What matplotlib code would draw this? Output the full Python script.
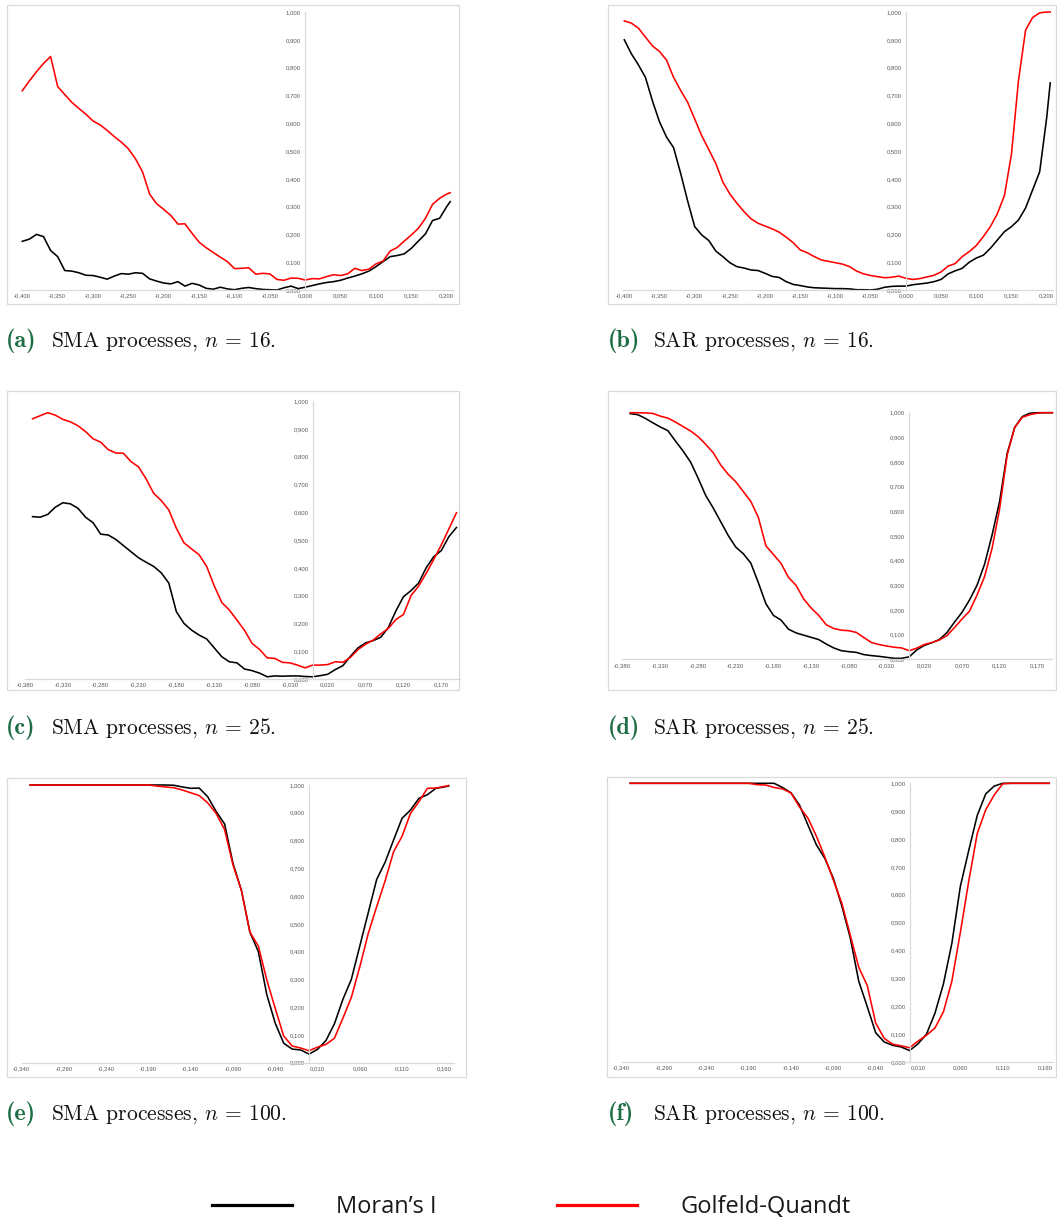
import numpy as np
import matplotlib
matplotlib.use("Agg")
import matplotlib.pyplot as plt
from matplotlib.patches import Rectangle
from matplotlib.lines import Line2D
from matplotlib.ticker import FuncFormatter, FixedLocator

plt.rcParams["mathtext.fontset"] = "cm"

# ---------------- data ----------------
X_AB = np.append(np.round(np.arange(-0.40, 0.2001, 0.01), 3), 0.205)
X_CD = np.round(np.arange(-0.37, 0.1901, 0.01), 3)
X_EF = np.append(np.round(np.arange(-0.33, 0.1601, 0.01), 3), 0.165)

XTICKS_AB = [-0.40, -0.35, -0.30, -0.25, -0.20, -0.15, -0.10, -0.05, 0.00, 0.05, 0.10, 0.15, 0.20]
XTICKS_CD = [-0.38, -0.33, -0.28, -0.23, -0.18, -0.13, -0.08, -0.03, 0.02, 0.07, 0.12, 0.17]
XTICKS_EF = [-0.34, -0.29, -0.24, -0.19, -0.14, -0.09, -0.04, 0.01, 0.06, 0.11, 0.16]
YTICKS = [0.0, 0.1, 0.2, 0.3, 0.4, 0.5, 0.6, 0.7, 0.8, 0.9, 1.0]

SERIES_NAMES = ["Moran\u2019s I", "Golfeld-Quandt"]

# (a) SMA, n = 16
GQ_A = [0.717, 0.752, 0.785, 0.815, 0.840, 0.732, 0.703, 0.675, 0.653, 0.632,
        0.608, 0.594, 0.574, 0.552, 0.532, 0.508, 0.472, 0.425, 0.345, 0.310,
        0.290, 0.268, 0.237, 0.238, 0.204, 0.172, 0.152, 0.135, 0.118, 0.102,
        0.077, 0.078, 0.080, 0.057, 0.060, 0.058, 0.038, 0.035, 0.043, 0.042,
        0.036, 0.041, 0.040, 0.048, 0.055, 0.052, 0.058, 0.078, 0.070, 0.075,
        0.094, 0.104, 0.140, 0.153, 0.176, 0.198, 0.222, 0.258, 0.308, 0.330,
        0.345, 0.350]
MI_A = [0.175, 0.183, 0.200, 0.192, 0.142, 0.120, 0.070, 0.068, 0.062, 0.053,
        0.052, 0.046, 0.039, 0.050, 0.059, 0.057, 0.062, 0.060, 0.040, 0.032,
        0.025, 0.022, 0.030, 0.014, 0.024, 0.018, 0.006, 0.003, 0.010, 0.004,
        0.001, 0.006, 0.009, 0.005, 0.002, 0.001, 0.000, 0.008, 0.014, 0.005,
        0.010, 0.016, 0.022, 0.027, 0.030, 0.035, 0.043, 0.050, 0.058, 0.068,
        0.084, 0.102, 0.120, 0.124, 0.130, 0.150, 0.176, 0.202, 0.250, 0.258,
        0.300, 0.318]

# (b) SAR, n = 16
GQ_B = [0.968, 0.960, 0.942, 0.910, 0.878, 0.858, 0.827, 0.765, 0.718, 0.675,
        0.615, 0.555, 0.505, 0.455, 0.388, 0.345, 0.312, 0.282, 0.256, 0.240,
        0.230, 0.220, 0.208, 0.190, 0.170, 0.144, 0.134, 0.120, 0.108, 0.103,
        0.098, 0.093, 0.084, 0.068, 0.058, 0.052, 0.048, 0.044, 0.046, 0.050,
        0.042, 0.038, 0.041, 0.047, 0.053, 0.065, 0.086, 0.095, 0.120, 0.138,
        0.160, 0.192, 0.228, 0.275, 0.340, 0.490, 0.755, 0.935, 0.980, 0.997,
        1.000, 1.000]
MI_B = [0.900, 0.850, 0.810, 0.765, 0.680, 0.605, 0.550, 0.512, 0.420, 0.320,
        0.228, 0.198, 0.178, 0.140, 0.120, 0.098, 0.084, 0.079, 0.072, 0.070,
        0.060, 0.049, 0.045, 0.030, 0.020, 0.016, 0.011, 0.008, 0.007, 0.006,
        0.005, 0.005, 0.004, 0.001, 0.001, 0.000, 0.003, 0.010, 0.013, 0.014,
        0.014, 0.019, 0.022, 0.025, 0.030, 0.038, 0.058, 0.069, 0.078, 0.100,
        0.115, 0.125, 0.150, 0.180, 0.210, 0.228, 0.252, 0.295, 0.360, 0.425,
        0.620, 0.745]

# (c) SMA, n = 25
GQ_C = [0.936, 0.947, 0.958, 0.949, 0.934, 0.925, 0.911,
        0.890, 0.864, 0.852, 0.825, 0.813, 0.812, 0.782, 0.763, 0.720, 0.668,
        0.642, 0.608, 0.542, 0.490, 0.468, 0.447, 0.405, 0.335, 0.275, 0.248,
        0.212, 0.175, 0.128, 0.106, 0.076, 0.074, 0.060, 0.058, 0.050, 0.040,
        0.050, 0.050, 0.052, 0.062, 0.060, 0.078, 0.106, 0.125, 0.140, 0.162,
        0.182, 0.214, 0.232, 0.300, 0.334, 0.380, 0.430, 0.482, 0.540, 0.598]
MI_C = [0.584, 0.582, 0.592, 0.618, 0.634, 0.630, 0.614,
        0.582, 0.562, 0.521, 0.518, 0.502, 0.480, 0.458, 0.436, 0.420, 0.405,
        0.382, 0.345, 0.242, 0.200, 0.176, 0.158, 0.144, 0.112, 0.080, 0.062,
        0.058, 0.036, 0.030, 0.021, 0.008, 0.011, 0.010, 0.011, 0.011, 0.009,
        0.008, 0.012, 0.017, 0.034, 0.048, 0.082, 0.112, 0.130, 0.138, 0.150,
        0.185, 0.245, 0.296, 0.318, 0.345, 0.400, 0.440, 0.462, 0.512, 0.545]

# (d) SAR, n = 25
GQ_D = [1.000, 1.000, 0.999, 0.997, 0.986, 0.978, 0.962,
        0.944, 0.926, 0.903, 0.872, 0.838, 0.788, 0.750, 0.720, 0.680, 0.640,
        0.575, 0.460, 0.425, 0.389, 0.332, 0.300, 0.245, 0.208, 0.178, 0.140,
        0.125, 0.118, 0.116, 0.109, 0.088, 0.068, 0.060, 0.054, 0.049, 0.046,
        0.035, 0.045, 0.060, 0.068, 0.078, 0.096, 0.128, 0.163, 0.195, 0.260,
        0.335, 0.450, 0.610, 0.828, 0.940, 0.981, 0.992, 0.998, 1.000, 1.000]
MI_D = [0.996, 0.992, 0.977, 0.959, 0.942, 0.927, 0.885,
        0.845, 0.800, 0.735, 0.665, 0.614, 0.558, 0.502, 0.455, 0.428, 0.390,
        0.310, 0.225, 0.178, 0.159, 0.122, 0.107, 0.098, 0.089, 0.080, 0.062,
        0.046, 0.035, 0.031, 0.028, 0.019, 0.015, 0.012, 0.008, 0.004, 0.004,
        0.010, 0.038, 0.056, 0.067, 0.080, 0.108, 0.150, 0.190, 0.240, 0.300,
        0.385, 0.504, 0.640, 0.835, 0.940, 0.984, 0.998, 1.000, 1.000, 1.000]

# (e) SMA, n = 100
GQ_E = [1.000, 1.000, 1.000, 1.000, 1.000, 1.000, 1.000, 1.000, 1.000, 1.000,
        1.000, 1.000, 1.000, 1.000, 1.000,
        0.996, 0.993, 0.990, 0.982, 0.972, 0.962, 0.936, 0.898, 0.840, 0.712,
        0.620, 0.470, 0.420, 0.298, 0.195, 0.096, 0.060, 0.053,
        0.043, 0.056, 0.066, 0.088, 0.160, 0.235, 0.345, 0.465, 0.562, 0.655,
        0.760, 0.815, 0.898, 0.940, 0.988, 0.989, 0.995,
        0.998]
MI_E = [1.000, 1.000, 1.000, 1.000, 1.000, 1.000, 1.000, 1.000, 1.000, 1.000,
        1.000, 1.000, 1.000, 1.000, 1.000, 1.000, 1.000,
        0.999, 0.993, 0.988, 0.989, 0.958, 0.905, 0.860, 0.718, 0.620, 0.470,
        0.400, 0.245, 0.142, 0.070, 0.049, 0.046,
        0.031, 0.048, 0.080, 0.140, 0.228, 0.300, 0.420, 0.540, 0.660, 0.722,
        0.802, 0.880, 0.910, 0.952, 0.965, 0.988, 0.993,
        0.996]

# (f) SAR, n = 100
GQ_F = [1.000, 1.000, 1.000, 1.000, 1.000, 1.000, 1.000, 1.000, 1.000, 1.000,
        1.000, 1.000, 1.000, 1.000, 1.000,
        0.995, 0.994, 0.985, 0.980, 0.965, 0.915, 0.875, 0.810, 0.735, 0.653,
        0.570, 0.455, 0.340, 0.275, 0.140, 0.085, 0.064, 0.058,
        0.051, 0.075, 0.096, 0.122, 0.180, 0.290, 0.465, 0.650, 0.820, 0.905,
        0.958, 0.998, 1.000, 1.000, 1.000, 1.000, 1.000,
        1.000]
MI_F = [1.000, 1.000, 1.000, 1.000, 1.000, 1.000, 1.000, 1.000, 1.000, 1.000,
        1.000, 1.000, 1.000, 1.000, 1.000, 1.000, 1.000, 1.000,
        0.985, 0.966, 0.922, 0.850, 0.779, 0.730, 0.659, 0.560, 0.445, 0.290,
        0.199, 0.105, 0.072, 0.060, 0.054,
        0.041, 0.065, 0.100, 0.175, 0.280, 0.426, 0.630, 0.760, 0.885, 0.962,
        0.990, 1.000, 1.000, 1.000, 1.000, 1.000, 1.000,
        1.000]

CAPTIONS = [("a", "SMA processes, $n$ = 16."), ("b", "SAR processes, $n$ = 16."),
            ("c", "SMA processes, $n$ = 25."), ("d", "SAR processes, $n$ = 25."),
            ("e", "SMA processes, $n$ = 100."), ("f", "SAR processes, $n$ = 100.")]

# ---------------- layout ----------------
W, H = 1057, 1222
fig = plt.figure(figsize=(W / 100, H / 100), dpi=100)
fig.patch.set_facecolor("white")


def fx(px):
    return px / W


def fy(py):
    return 1 - py / H


RED = "#ff0000"
BLACK = "#000000"
GRID_GRAY = "#d9d9d9"
LABEL_GRAY = "#595959"
GREEN = "#1e6e45"

fmt = FuncFormatter(lambda v, p: f"{v:.3f}".replace(".", ","))


def panel(box, xref, yref, xlim, x, gq, mi, xticks):
    bx0, by0, bx1, by1 = box
    fig.patches.append(Rectangle((fx(bx0), fy(by1)), (bx1 - bx0) / W, (by1 - by0) / H,
                                 transform=fig.transFigure, facecolor="white",
                                 edgecolor=GRID_GRAY, lw=0.9, zorder=0))
    (p0, v0), (p1, v1) = xref
    ppu = (p1 - p0) / (v1 - v0)
    left = p0 + (xlim[0] - v0) * ppu
    right = p0 + (xlim[1] - v0) * ppu
    ytop, ybot = yref
    ax = fig.add_axes([fx(left), fy(ybot), (right - left) / W, (ybot - ytop) / H])
    ax.patch.set_visible(False)
    ax.set_xlim(*xlim)
    ax.set_ylim(0, 1)
    ax.plot(x, mi, color=BLACK, lw=1.15, clip_on=False, solid_joinstyle="round")
    ax.plot(x, gq, color=RED, lw=1.15, clip_on=False, solid_joinstyle="round")
    for s in ("top", "right"):
        ax.spines[s].set_visible(False)
    ax.spines["left"].set_position(("data", 0))
    ax.spines["left"].set_color(GRID_GRAY)
    ax.spines["left"].set_linewidth(0.9)
    ax.spines["bottom"].set_color(GRID_GRAY)
    ax.spines["bottom"].set_linewidth(0.9)
    ax.xaxis.set_major_locator(FixedLocator(xticks))
    ax.yaxis.set_major_locator(FixedLocator(YTICKS))
    ax.xaxis.set_major_formatter(fmt)
    ax.yaxis.set_major_formatter(fmt)
    ax.tick_params(axis="both", length=0, labelsize=4.3, labelcolor=LABEL_GRAY)
    ax.tick_params(axis="x", pad=2.6)
    ax.tick_params(axis="y", pad=3.0)
    for lab in ax.get_xticklabels() + ax.get_yticklabels():
        lab.set_fontfamily("Liberation Sans")
    ax.set_zorder(2)
    return ax


axes = []
axes.append(panel((7, 5, 459, 304), ((22.3, -0.40), (446.7, 0.20)), (12, 290),
                  (-0.402, 0.209), X_AB, GQ_A, MI_A, XTICKS_AB))
axes.append(panel((608, 5, 1056, 304), ((624.3, -0.40), (1046.7, 0.20)), (12, 290),
                  (-0.402, 0.209), X_AB, GQ_B, MI_B, XTICKS_AB))
axes.append(panel((7, 391, 459, 690), ((25.0, -0.38), (441.3, 0.17)), (401, 679),
                  (-0.38, 0.195), X_CD, GQ_C, MI_C, XTICKS_CD))
axes.append(panel((608, 391, 1056, 690), ((622.7, -0.38), (1037.3, 0.17)), (412.7, 659.3),
                  (-0.381, 0.19), X_CD, GQ_D, MI_D, XTICKS_CD))
axes.append(panel((7, 778, 466, 1077), ((21.7, -0.34), (444.3, 0.16)), (785, 1062.7),
                  (-0.34, 0.171), X_EF, GQ_E, MI_E, XTICKS_EF))
axes.append(panel((607, 777, 1056, 1077), ((621.7, -0.34), (1045.0, 0.16)), (783.3, 1062),
                  (-0.34, 0.17), X_EF, GQ_F, MI_F, XTICKS_EF))

# ---------------- captions ----------------
cap_pos = [(8, 347), (610, 347), (8, 734), (610, 734), (8, 1120), (610, 1120)]
for (letter, text), (cx, cy) in zip(CAPTIONS, cap_pos):
    fig.text(fx(cx - 2), fy(cy), f"({letter})", fontfamily="cmb10", fontsize=17.5,
             color=GREEN, va="baseline", ha="left")
    fig.text(fx(cx + 43), fy(cy), text, fontfamily="cmr10", fontsize=15.5,
             color="#111111", va="baseline", ha="left")

# ---------------- legend ----------------
handles = [Line2D([], [], color=BLACK, lw=2.3), Line2D([], [], color=RED, lw=2.3)]
leg = fig.legend(handles, SERIES_NAMES, loc="center left",
                 bbox_to_anchor=(fx(212), fy(1207)), ncol=2, frameon=False,
                 prop={"family": "Open Sans", "size": 17},
                 handlelength=3.4, handletextpad=1.85, columnspacing=5.1,
                 borderpad=0, borderaxespad=0)
for t in leg.get_texts():
    t.set_color("#1a1a1a")

fig.savefig("out.png", dpi=100, facecolor="white")
